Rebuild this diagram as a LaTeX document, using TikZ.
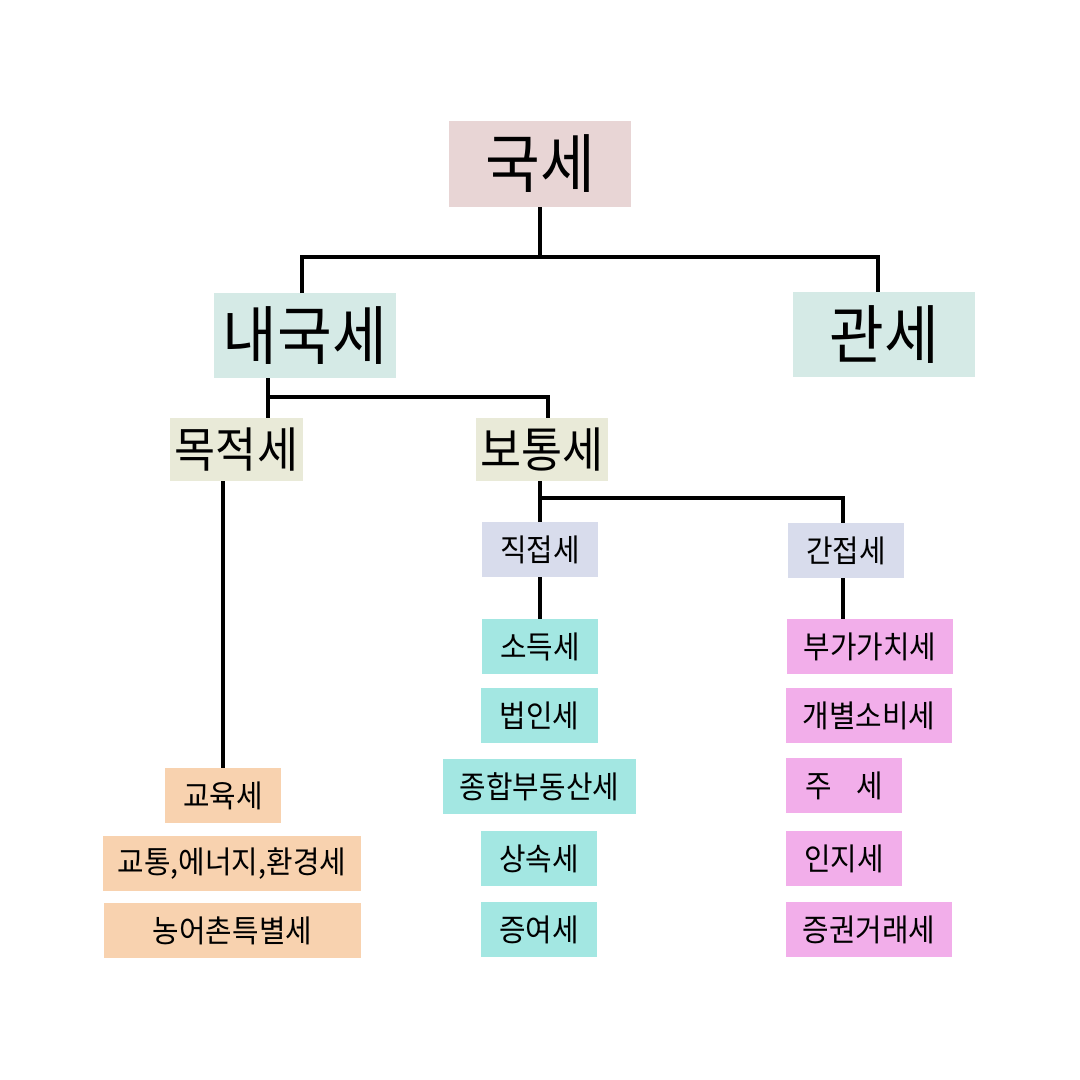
\documentclass[tikz,border=0pt]{standalone}
\usepackage{fontspec}
\setmainfont[FakeStretch=0.93]{Noto Sans CJK KR}
\definecolor{cTop}{HTML}{E8D5D5}
\definecolor{cL1}{HTML}{D5EAE6}
\definecolor{cL2}{HTML}{E9EAD8}
\definecolor{cL3}{HTML}{D8DCEC}
\definecolor{cDir}{HTML}{A3E7E2}
\definecolor{cInd}{HTML}{F2AEEA}
\definecolor{cPur}{HTML}{F8D2AF}
\begin{document}
\begin{tikzpicture}[x=1pt,y=-1pt,
  bx/.style={inner sep=0pt, outer sep=0pt, align=center, text=black},
  big/.style={bx, font=\fontsize{64}{66}\selectfont},
  mid/.style={bx, font=\fontsize{48}{50}\selectfont},
  sml/.style={bx, font=\fontsize{31}{33}\selectfont},
  conn/.style={line width=4pt, draw=black, line join=miter}]
\useasboundingbox[fill=white] (0,0) rectangle (1080,1080);
% level 0
\node[big, fill=cTop, minimum width=182pt, minimum height=86pt] (guk) at (540,164) {국세};
% level 1
\node[big, fill=cL1, minimum width=182pt, minimum height=85pt] (naeguk) at (305,335.5) {내국세};
\node[big, fill=cL1, minimum width=182pt, minimum height=85pt] (gwan) at (884,334.5) {관세};
% level 2
\node[mid, fill=cL2, minimum width=133pt, minimum height=63pt] (mok) at (236.5,449.5) {목적세};
\node[mid, fill=cL2, minimum width=132pt, minimum height=63pt] (botong) at (542,449.5) {보통세};
% level 3
\node[sml, fill=cL3, minimum width=116pt, minimum height=55pt] (jik) at (540,549.5) {직접세};
\node[sml, fill=cL3, minimum width=116pt, minimum height=55pt] (gan) at (846,550.5) {간접세};
% direct taxes
\node[sml, fill=cDir, minimum width=116pt, minimum height=55pt] (sodeuk) at (540,646.5) {소득세};
\node[sml, fill=cDir, minimum width=117pt, minimum height=55pt] (beobin) at (539.5,715.5) {법인세};
\node[sml, fill=cDir, minimum width=193pt, minimum height=55pt] (jonghap) at (539.5,786.5) {종합부동산세};
\node[sml, fill=cDir, minimum width=116pt, minimum height=55pt] (sangsok) at (539,858.5) {상속세};
\node[sml, fill=cDir, minimum width=116pt, minimum height=55pt] (jeungyeo) at (539,929.5) {증여세};
% indirect taxes
\node[sml, fill=cInd, minimum width=166pt, minimum height=55pt] (vat) at (870,646.5) {부가가치세};
\node[sml, fill=cInd, minimum width=166pt, minimum height=55pt] (gaebyeol) at (869,715.5) {개별소비세};
\node[sml, fill=cInd, minimum width=116pt, minimum height=55pt] (ju) at (844,785.5) {주\hspace{0.8em}세};
\node[sml, fill=cInd, minimum width=116pt, minimum height=55pt] (inji) at (844,858.5) {인지세};
\node[sml, fill=cInd, minimum width=166pt, minimum height=55pt] (jeunggwon) at (869,929.5) {증권거래세};
% purpose taxes
\node[sml, fill=cPur, minimum width=116pt, minimum height=55pt] (edu) at (223,795.5) {교육세};
\node[sml, fill=cPur, minimum width=258pt, minimum height=55pt] (traffic) at (232,863.5) {교통,에너지,환경세};
\node[sml, fill=cPur, minimum width=257pt, minimum height=55pt] (rural) at (232.5,930.5) {농어촌특별세};
% connectors
\coordinate (b1) at (540,257);
\coordinate (b2) at (268,397);
\coordinate (b3) at (540,498);
\draw[conn] (guk.south) -- (b1);
\draw[conn] ([xshift=-3pt]naeguk.north) |- (b1) -| ([xshift=-6pt]gwan.north);
\draw[conn] ([xshift=-37pt]naeguk.south) -- ([xshift=31.5pt]mok.north);
\draw[conn] (b2) -| ([xshift=6pt]botong.north);
\draw[conn] ([xshift=-13.5pt]mok.south) -- (edu.north);
\draw[conn] ([xshift=-2pt]botong.south) -- (jik.north);
\draw[conn] (b3) -| ([xshift=-3pt]gan.north);
\draw[conn] (jik.south) -- (sodeuk.north);
\draw[conn] ([xshift=-3pt]gan.south) -- ([xshift=-27pt]vat.north);
\end{tikzpicture}
\end{document}
